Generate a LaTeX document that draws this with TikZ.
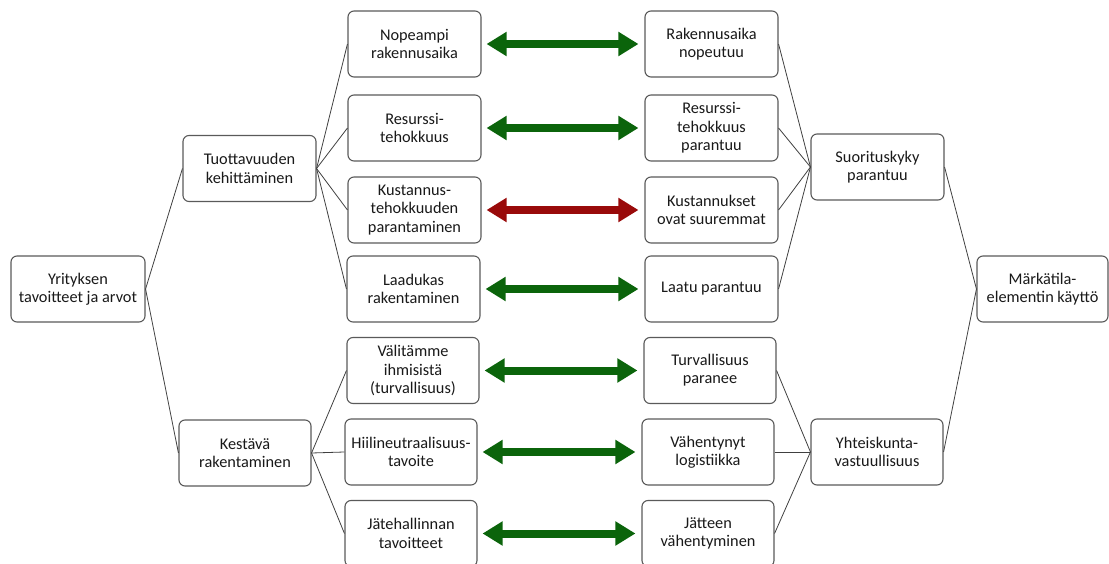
\documentclass[tikz,border=0pt]{standalone}
\usepackage{fontspec}
\setmainfont{Carlito}
\usetikzlibrary{arrows.meta}
\definecolor{boxline}{HTML}{5A5A5A}
\definecolor{conn}{HTML}{404040}
\definecolor{goodgreen}{HTML}{0B640B}
\definecolor{badred}{HTML}{990A0A}
\begin{document}
\begin{tikzpicture}[x=1pt,y=1pt,
  box/.style={draw=boxline, line width=1.1pt, rounded corners=6pt, fill=white,
    minimum width=133pt, minimum height=66pt, inner sep=1pt, align=center,
    text=black!90, font=\fontsize{16.3}{18.3}\selectfont},
  conn/.style={draw=conn, line width=0.8pt},
  dbl/.style={line width=8pt, {Triangle[length=20pt,width=23pt]}-{Triangle[length=20pt,width=23pt]}, shorten <=5pt, shorten >=6pt}
]
\useasboundingbox (0,0) rectangle (1109,-564);
% root
\node[box, minimum width=134pt] (root) at (78,-289) {Yrityksen\\tavoitteet ja arvot};
\node[box] (tuo) at (249.5,-168.5) {Tuottavuuden\\kehittäminen};
\node[box, minimum width=132pt] (kes) at (245,-453) {Kestävä\\rakentaminen};
% left column
\node[box] (l1) at (414.5,-44) {Nopeampi\\rakennusaika};
\node[box] (l2) at (414.5,-128) {Resurssi-\\tehokkuus};
\node[box] (l3) at (414.5,-210) {Kustannus-\\tehokkuuden\\parantaminen};
\node[box] (l4) at (413.5,-289) {Laadukas\\rakentaminen};
\node[box, minimum width=132pt] (l5) at (413,-370.5) {Välitämme\\ihmisistä\\(turvallisuus)};
\node[box, minimum width=132pt] (l6) at (411,-452) {Hiilineutraalisuus-\\tavoite};
\node[box, minimum width=132pt] (l7) at (411,-533.5) {Jätehallinnan\\tavoitteet};
% right column
\node[box] (r1) at (711.5,-44) {Rakennusaika\\nopeutuu};
\node[box] (r2) at (711.5,-128) {Resurssi-\\tehokkuus\\parantuu};
\node[box] (r3) at (711.5,-210) {Kustannukset\\ovat suuremmat};
\node[box] (r4) at (711.5,-289) {Laatu parantuu};
\node[box, minimum width=132pt] (r5) at (710,-370.5) {Turvallisuus\\paranee};
\node[box, minimum width=132pt] (r6) at (708,-452) {Vähentynyt\\logistiikka};
\node[box, minimum width=132pt] (r7) at (708,-533.5) {Jätteen\\vähentyminen};
% right side
\node[box] (suo) at (877.5,-167) {Suorituskyky\\parantuu};
\node[box, minimum width=132pt] (yht) at (877,-452) {Yhteiskunta-\\vastuullisuus};
\node[box, minimum width=131pt] (mar) at (1042.5,-289) {Märkätila-\\elementin käyttö};
% connectors
\draw[conn] (root.east) -- (tuo.west);
\draw[conn] (root.east) -- (kes.west);
\foreach \n in {l1,l2,l3,l4} \draw[conn] (tuo.east) -- (\n.west);
\foreach \n in {l5,l6,l7} \draw[conn] (kes.east) -- (\n.west);
\foreach \n in {r1,r2,r3,r4} \draw[conn] (\n.east) -- (suo.west);
\foreach \n in {r5,r6,r7} \draw[conn] (\n.east) -- (yht.west);
\draw[conn] (suo.east) -- (mar.west);
\draw[conn] (yht.east) -- (mar.west);
% arrows
\draw[dbl, goodgreen] (l1.east) -- (r1.west);
\draw[dbl, goodgreen] (l2.east) -- (r2.west);
\draw[dbl, badred] (l3.east) -- (r3.west);
\draw[dbl, goodgreen] (l4.east) -- (r4.west);
\draw[dbl, goodgreen] (l5.east) -- (r5.west);
\draw[dbl, goodgreen] (l6.east) -- (r6.west);
\draw[dbl, goodgreen] (l7.east) -- (r7.west);
\end{tikzpicture}
\end{document}
